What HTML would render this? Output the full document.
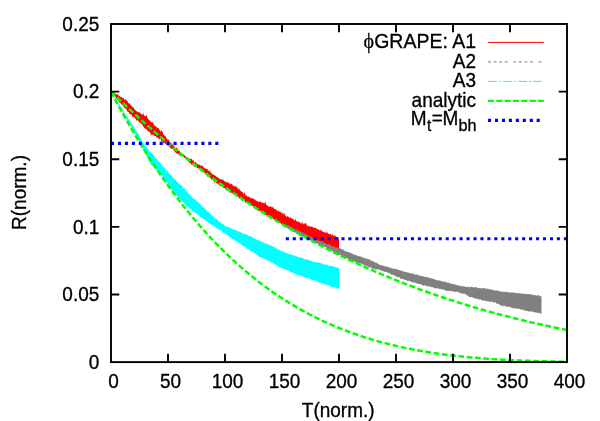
<!DOCTYPE html>
<html><head><meta charset="utf-8"><style>
html,body{margin:0;padding:0;background:#fff;}
svg{display:block;will-change:transform}
text{font-family:"Liberation Sans",sans-serif;font-size:19px;fill:#000;stroke:#000;stroke-width:0.3px}
</style></head><body>
<svg width="600" height="421" viewBox="0 0 600 421">
<rect width="600" height="421" fill="#fff"/>
<polygon points="111.0,92.2 111.5,92.2 112.0,92.5 112.5,92.4 113.0,92.1 113.5,92.2 114.0,93.4 114.5,91.2 115.0,94.0 115.5,93.6 116.0,94.5 116.5,94.1 117.0,94.1 117.5,94.7 118.0,94.6 118.5,95.1 119.0,96.4 119.5,95.8 120.0,96.6 120.5,96.7 121.0,97.2 121.5,96.8 122.0,97.5 122.5,98.3 123.0,97.9 123.5,97.5 124.0,99.1 124.5,99.7 125.0,99.8 125.5,99.3 126.0,99.6 126.5,100.6 127.0,100.6 127.5,101.2 128.0,102.4 128.5,103.4 129.0,102.8 129.5,103.4 130.0,104.1 130.5,105.0 131.0,105.2 131.5,105.7 132.0,106.6 132.5,107.2 133.0,107.5 133.5,107.3 134.0,108.4 134.5,109.5 135.0,110.1 135.5,110.1 136.0,110.9 136.5,111.3 137.0,111.1 137.5,112.2 138.0,111.8 138.5,112.4 139.0,112.1 139.5,112.3 140.0,112.9 140.5,113.1 141.0,113.9 141.5,113.6 142.0,114.5 142.5,114.3 143.0,115.0 143.5,112.1 144.0,116.0 144.5,115.9 145.0,114.9 145.5,116.6 146.0,116.3 146.5,114.3 147.0,117.1 147.5,118.0 148.0,118.2 148.5,119.6 149.0,120.1 149.5,120.3 150.0,120.8 150.5,121.5 151.0,122.1 151.5,121.9 152.0,123.2 152.5,122.4 153.0,120.8 153.5,124.3 154.0,124.6 154.5,126.0 155.0,125.4 155.5,126.0 156.0,126.6 156.5,127.4 157.0,127.2 157.5,127.8 158.0,128.3 158.5,128.3 159.0,129.2 159.5,130.0 160.0,130.1 160.5,131.3 161.0,132.0 161.5,129.0 162.0,132.1 162.5,131.2 163.0,133.2 163.5,134.3 164.0,135.7 164.5,135.6 165.0,135.4 165.5,136.2 166.0,137.3 166.5,137.9 167.0,138.9 167.5,139.5 168.0,140.3 168.5,139.3 169.0,140.3 169.5,141.8 170.0,141.9 170.5,143.1 171.0,143.5 171.5,143.2 172.0,143.2 172.5,144.7 173.0,145.5 173.5,145.3 174.0,145.2 174.5,146.6 175.0,147.7 175.5,148.1 176.0,148.6 176.5,147.4 177.0,147.5 177.5,148.6 178.0,150.3 178.5,150.6 179.0,150.4 179.5,150.5 180.0,152.0 180.5,152.9 181.0,152.1 181.5,153.5 182.0,153.4 182.5,154.5 183.0,154.1 183.5,154.3 184.0,154.8 184.5,155.5 185.0,155.4 185.5,156.6 186.0,156.9 186.5,157.3 187.0,157.3 187.5,158.3 188.0,157.6 188.5,157.9 189.0,157.7 189.5,158.9 190.0,159.4 190.5,159.1 191.0,158.7 191.5,158.7 192.0,159.3 192.5,160.1 193.0,160.9 193.5,160.3 194.0,160.6 194.5,162.4 195.0,162.6 195.5,161.9 196.0,162.3 196.5,163.6 197.0,164.1 197.5,164.1 198.0,164.1 198.5,165.2 199.0,163.9 199.5,164.9 200.0,164.7 200.5,165.9 201.0,164.9 201.5,165.5 202.0,166.5 202.5,165.7 203.0,166.4 203.5,166.5 204.0,168.2 204.5,168.4 205.0,167.6 205.5,168.7 206.0,168.6 206.5,169.5 207.0,168.3 207.5,169.6 208.0,169.4 208.5,171.2 209.0,170.9 209.5,172.0 210.0,169.1 210.5,172.1 211.0,173.2 211.5,173.6 212.0,173.2 212.5,174.4 213.0,174.6 213.5,174.6 214.0,174.9 214.5,175.1 215.0,175.5 215.5,176.2 216.0,176.0 216.5,177.1 217.0,177.2 217.5,176.5 218.0,178.0 218.5,178.1 219.0,178.4 219.5,178.2 220.0,179.3 220.5,179.6 221.0,179.1 221.5,179.9 222.0,179.2 222.5,179.3 223.0,180.0 223.5,180.0 224.0,180.8 224.5,181.7 225.0,181.3 225.5,181.7 226.0,181.5 226.5,182.6 227.0,182.7 227.5,181.9 228.0,183.1 228.5,182.6 229.0,182.4 229.5,183.9 230.0,184.3 230.5,183.6 231.0,184.1 231.5,184.2 232.0,183.5 232.5,185.1 233.0,186.1 233.5,185.9 234.0,185.3 234.5,186.7 235.0,186.4 235.5,185.7 236.0,186.2 236.5,187.5 237.0,186.4 237.5,188.1 238.0,188.7 238.5,188.4 239.0,190.2 239.5,187.6 240.0,191.3 240.5,190.2 241.0,191.0 241.5,191.8 242.0,191.8 242.5,192.3 243.0,192.5 243.5,194.1 244.0,193.8 244.5,191.9 245.0,193.9 245.5,195.5 246.0,195.7 246.5,194.8 247.0,196.1 247.5,196.9 248.0,196.0 248.5,196.8 249.0,196.5 249.5,197.2 250.0,197.4 250.5,197.9 251.0,198.4 251.5,197.6 252.0,198.2 252.5,198.3 253.0,198.4 253.5,198.8 254.0,198.9 254.5,199.3 255.0,200.2 255.5,199.3 256.0,201.2 256.5,200.3 257.0,201.5 257.5,200.6 258.0,201.9 258.5,202.2 259.0,201.4 259.5,201.8 260.0,201.6 260.5,201.6 261.0,201.4 261.5,203.2 262.0,202.4 262.5,202.7 263.0,202.7 263.5,203.1 264.0,203.2 264.5,202.9 265.0,203.8 265.5,201.0 266.0,203.9 266.5,205.3 267.0,204.9 267.5,205.8 268.0,206.0 268.5,206.5 269.0,206.4 269.5,206.7 270.0,206.4 270.5,206.6 271.0,206.4 271.5,207.3 272.0,206.8 272.5,208.0 273.0,206.1 273.5,208.3 274.0,208.4 274.5,209.3 275.0,208.4 275.5,209.0 276.0,210.4 276.5,210.0 277.0,209.5 277.5,211.5 278.0,211.4 278.5,209.3 279.0,212.4 279.5,211.5 280.0,211.1 280.5,212.1 281.0,212.7 281.5,212.3 282.0,213.7 282.5,212.2 283.0,214.8 283.5,214.2 284.0,211.8 284.5,214.0 285.0,214.4 285.5,215.7 286.0,216.5 286.5,216.6 287.0,216.8 287.5,216.0 288.0,216.6 288.5,216.9 289.0,217.3 289.5,218.3 290.0,217.9 290.5,217.1 291.0,217.6 291.5,218.3 292.0,219.2 292.5,218.2 293.0,219.3 293.5,219.2 294.0,220.2 294.5,220.3 295.0,220.5 295.5,218.2 296.0,221.6 296.5,220.7 297.0,221.8 297.5,221.3 298.0,221.5 298.5,221.6 299.0,221.8 299.5,222.8 300.0,222.2 300.5,223.1 301.0,223.7 301.5,222.5 302.0,224.3 302.5,220.7 303.0,224.2 303.5,224.2 304.0,223.3 304.5,224.5 305.0,222.4 305.5,222.9 306.0,223.5 306.5,224.7 307.0,225.3 307.5,226.2 308.0,225.9 308.5,225.8 309.0,226.4 309.5,225.9 310.0,226.9 310.5,226.6 311.0,226.7 311.5,226.6 312.0,226.7 312.5,226.9 313.0,227.6 313.5,227.7 314.0,227.2 314.5,228.3 315.0,227.8 315.5,227.5 316.0,227.8 316.5,228.7 317.0,229.4 317.5,229.0 318.0,229.1 318.5,229.6 319.0,230.1 319.5,230.1 320.0,231.0 320.5,228.7 321.0,231.2 321.5,230.5 322.0,230.2 322.5,231.8 323.0,232.2 323.5,231.2 324.0,232.1 324.5,232.0 325.0,233.0 325.5,233.0 326.0,232.2 326.5,232.6 327.0,232.4 327.5,232.4 328.0,233.7 328.5,233.4 329.0,233.9 329.5,234.0 330.0,234.4 330.5,233.5 331.0,234.4 331.5,235.4 332.0,234.6 332.5,234.3 333.0,234.7 333.5,235.5 334.0,236.6 334.5,235.4 335.0,235.4 335.5,235.9 336.0,236.7 336.5,236.9 337.0,236.5 337.5,237.8 338.0,236.8 338.5,237.5 339.0,238.5 339.0,248.5 339.0,248.5 338.5,250.6 338.0,249.1 337.5,247.7 337.0,247.8 336.5,248.1 336.0,249.5 335.5,248.0 335.0,248.1 334.5,247.9 334.0,247.0 333.5,246.2 333.0,247.3 332.5,247.2 332.0,246.8 331.5,246.6 331.0,246.5 330.5,245.0 330.0,245.6 329.5,246.0 329.0,245.4 328.5,244.6 328.0,244.6 327.5,245.1 327.0,244.8 326.5,244.7 326.0,244.6 325.5,243.8 325.0,244.2 324.5,243.2 324.0,242.6 323.5,242.9 323.0,244.0 322.5,243.4 322.0,242.0 321.5,241.6 321.0,241.5 320.5,244.1 320.0,241.1 319.5,240.9 319.0,241.1 318.5,241.3 318.0,240.8 317.5,240.4 317.0,240.8 316.5,243.8 316.0,240.2 315.5,239.7 315.0,240.6 314.5,239.6 314.0,240.2 313.5,238.9 313.0,238.1 312.5,238.7 312.0,239.3 311.5,240.8 311.0,237.4 310.5,237.7 310.0,237.6 309.5,237.2 309.0,237.7 308.5,236.1 308.0,236.6 307.5,239.0 307.0,236.4 306.5,236.6 306.0,235.2 305.5,235.0 305.0,235.6 304.5,236.1 304.0,235.0 303.5,234.8 303.0,236.2 302.5,235.0 302.0,233.8 301.5,234.0 301.0,233.8 300.5,236.4 300.0,235.7 299.5,233.4 299.0,232.2 298.5,233.4 298.0,232.8 297.5,233.5 297.0,231.4 296.5,231.8 296.0,230.9 295.5,231.4 295.0,230.4 294.5,231.0 294.0,230.5 293.5,230.1 293.0,230.4 292.5,229.3 292.0,229.5 291.5,229.7 291.0,229.0 290.5,228.2 290.0,229.2 289.5,228.9 289.0,227.3 288.5,227.6 288.0,227.1 287.5,226.3 287.0,226.4 286.5,226.3 286.0,226.4 285.5,226.4 285.0,226.6 284.5,227.8 284.0,224.4 283.5,225.7 283.0,224.0 282.5,223.9 282.0,224.8 281.5,224.1 281.0,224.2 280.5,222.7 280.0,222.7 279.5,222.9 279.0,221.9 278.5,221.0 278.0,220.9 277.5,221.0 277.0,220.4 276.5,221.3 276.0,220.1 275.5,221.1 275.0,219.2 274.5,219.8 274.0,219.6 273.5,219.6 273.0,217.8 272.5,218.5 272.0,218.8 271.5,217.3 271.0,217.8 270.5,218.6 270.0,217.3 269.5,217.4 269.0,216.8 268.5,216.6 268.0,216.0 267.5,214.8 267.0,216.8 266.5,215.4 266.0,215.0 265.5,213.9 265.0,215.6 264.5,214.2 264.0,213.2 263.5,213.4 263.0,213.8 262.5,212.0 262.0,212.5 261.5,212.8 261.0,212.1 260.5,210.6 260.0,211.5 259.5,210.8 259.0,210.8 258.5,209.5 258.0,212.9 257.5,209.6 257.0,210.3 256.5,208.3 256.0,208.7 255.5,209.4 255.0,208.2 254.5,208.2 254.0,207.2 253.5,206.9 253.0,205.7 252.5,206.0 252.0,206.1 251.5,205.0 251.0,205.6 250.5,205.7 250.0,205.6 249.5,205.1 249.0,204.1 248.5,203.0 248.0,202.6 247.5,203.1 247.0,203.1 246.5,201.8 246.0,202.2 245.5,203.0 245.0,201.8 244.5,200.2 244.0,200.0 243.5,200.5 243.0,200.4 242.5,201.8 242.0,199.0 241.5,199.5 241.0,198.6 240.5,199.3 240.0,199.1 239.5,198.1 239.0,198.6 238.5,197.1 238.0,196.8 237.5,196.8 237.0,195.6 236.5,195.6 236.0,195.0 235.5,196.2 235.0,194.4 234.5,195.8 234.0,194.5 233.5,194.6 233.0,193.2 232.5,193.1 232.0,193.2 231.5,192.7 231.0,193.0 230.5,191.6 230.0,191.7 229.5,193.6 229.0,191.0 228.5,190.7 228.0,190.5 227.5,190.1 227.0,190.7 226.5,189.7 226.0,190.2 225.5,189.5 225.0,188.0 224.5,188.1 224.0,188.0 223.5,188.5 223.0,186.6 222.5,186.9 222.0,186.9 221.5,186.3 221.0,186.1 220.5,186.1 220.0,184.5 219.5,186.4 219.0,185.2 218.5,184.0 218.0,184.4 217.5,182.8 217.0,183.7 216.5,183.4 216.0,182.8 215.5,181.5 215.0,181.8 214.5,184.3 214.0,180.0 213.5,181.4 213.0,179.8 212.5,179.4 212.0,178.6 211.5,180.4 211.0,177.9 210.5,178.3 210.0,178.3 209.5,177.0 209.0,176.2 208.5,176.0 208.0,175.9 207.5,177.6 207.0,174.7 206.5,175.1 206.0,173.7 205.5,174.2 205.0,173.2 204.5,172.4 204.0,172.4 203.5,172.3 203.0,171.5 202.5,172.1 202.0,171.6 201.5,171.6 201.0,171.1 200.5,169.6 200.0,170.2 199.5,169.4 199.0,168.6 198.5,168.2 198.0,168.6 197.5,167.9 197.0,168.1 196.5,166.8 196.0,166.9 195.5,167.2 195.0,167.6 194.5,166.2 194.0,166.4 193.5,165.4 193.0,164.9 192.5,165.1 192.0,165.1 191.5,164.7 191.0,163.7 190.5,162.9 190.0,163.2 189.5,162.9 189.0,161.4 188.5,163.1 188.0,160.4 187.5,160.3 187.0,160.3 186.5,159.1 186.0,159.0 185.5,158.8 185.0,158.1 184.5,158.1 184.0,157.0 183.5,156.8 183.0,156.5 182.5,156.2 182.0,155.7 181.5,156.1 181.0,156.1 180.5,155.7 180.0,155.2 179.5,155.5 179.0,155.1 178.5,154.3 178.0,153.6 177.5,154.1 177.0,153.7 176.5,153.6 176.0,152.6 175.5,151.8 175.0,153.6 174.5,150.6 174.0,151.1 173.5,149.4 173.0,149.4 172.5,148.6 172.0,148.6 171.5,149.0 171.0,148.7 170.5,147.9 170.0,147.8 169.5,146.1 169.0,147.1 168.5,145.5 168.0,145.6 167.5,145.9 167.0,144.4 166.5,145.2 166.0,143.7 165.5,143.9 165.0,143.6 164.5,143.0 164.0,141.8 163.5,145.0 163.0,142.1 162.5,141.2 162.0,141.2 161.5,143.0 161.0,139.6 160.5,139.6 160.0,138.4 159.5,139.5 159.0,138.4 158.5,139.1 158.0,137.2 157.5,138.4 157.0,136.7 156.5,137.7 156.0,135.9 155.5,136.1 155.0,136.1 154.5,135.9 154.0,135.6 153.5,134.8 153.0,134.2 152.5,134.8 152.0,134.9 151.5,134.1 151.0,136.6 150.5,133.8 150.0,132.6 149.5,131.9 149.0,131.5 148.5,131.4 148.0,131.6 147.5,130.5 147.0,129.2 146.5,129.7 146.0,128.6 145.5,129.3 145.0,128.6 144.5,128.2 144.0,127.5 143.5,127.1 143.0,125.7 142.5,124.9 142.0,124.4 141.5,123.7 141.0,123.4 140.5,122.8 140.0,123.2 139.5,122.4 139.0,121.2 138.5,122.0 138.0,121.1 137.5,119.4 137.0,120.5 136.5,121.2 136.0,119.0 135.5,119.0 135.0,118.2 134.5,117.1 134.0,117.1 133.5,117.4 133.0,116.3 132.5,117.5 132.0,116.0 131.5,114.2 131.0,114.9 130.5,114.3 130.0,113.9 129.5,113.9 129.0,112.6 128.5,112.1 128.0,112.3 127.5,111.7 127.0,110.4 126.5,109.1 126.0,108.8 125.5,108.4 125.0,107.8 124.5,108.4 124.0,106.9 123.5,106.4 123.0,105.8 122.5,105.6 122.0,104.4 121.5,104.7 121.0,103.6 120.5,103.0 120.0,102.9 119.5,102.8 119.0,102.2 118.5,100.4 118.0,100.5 117.5,99.5 117.0,99.7 116.5,98.4 116.0,98.3 115.5,97.1 115.0,96.0 114.5,96.5 114.0,95.8 113.5,94.5 113.0,94.7 112.5,93.6 112.0,92.8 111.5,92.4 111.0,91.9" fill="#ff0000"/>
<polygon points="287.0,224.5 287.5,225.8 288.0,225.3 288.5,225.6 289.0,225.8 289.5,226.2 290.0,226.2 290.5,226.5 291.0,226.6 291.5,227.2 292.0,227.2 292.5,228.0 293.0,227.6 293.5,228.3 294.0,228.4 294.5,229.2 295.0,229.4 295.5,229.2 296.0,229.2 296.5,229.2 297.0,229.4 297.5,229.5 298.0,230.0 298.5,231.0 299.0,230.7 299.5,230.9 300.0,230.9 300.5,231.4 301.0,232.2 301.5,231.8 302.0,232.0 302.5,232.4 303.0,232.3 303.5,232.8 304.0,233.5 304.5,232.8 305.0,234.2 305.5,234.0 306.0,235.0 306.5,234.7 307.0,234.5 307.5,235.1 308.0,235.5 308.5,236.0 309.0,236.5 309.5,236.6 310.0,236.2 310.5,236.8 311.0,237.6 311.5,237.3 312.0,236.4 312.5,237.9 313.0,238.1 313.5,238.9 314.0,239.1 314.5,238.8 315.0,239.4 315.5,239.5 316.0,239.1 316.5,240.2 317.0,240.2 317.5,240.5 318.0,240.2 318.5,240.9 319.0,241.0 319.5,241.0 320.0,241.4 320.5,241.3 321.0,241.4 321.5,242.0 322.0,242.2 322.5,241.7 323.0,242.5 323.5,242.4 324.0,242.3 324.5,243.6 325.0,243.8 325.5,243.9 326.0,244.2 326.5,243.7 327.0,244.5 327.5,244.9 328.0,244.8 328.5,244.5 329.0,245.3 329.5,245.3 330.0,245.8 330.5,245.1 331.0,245.7 331.5,246.2 332.0,246.5 332.5,246.7 333.0,246.7 333.5,246.1 334.0,247.2 334.5,246.4 335.0,246.5 335.5,247.5 336.0,247.9 336.5,247.8 337.0,248.2 337.5,247.6 338.0,247.8 338.5,248.2 339.0,247.4 339.5,247.9 340.0,248.5 340.5,248.6 341.0,248.4 341.5,249.1 342.0,249.1 342.5,249.6 343.0,250.0 343.5,249.6 344.0,250.0 344.5,251.0 345.0,251.1 345.5,251.2 346.0,251.4 346.5,251.6 347.0,251.9 347.5,251.2 348.0,252.0 348.5,252.1 349.0,252.0 349.5,253.1 350.0,252.4 350.5,252.6 351.0,253.2 351.5,253.6 352.0,253.2 352.5,253.9 353.0,254.3 353.5,254.5 354.0,254.2 354.5,254.8 355.0,255.0 355.5,254.6 356.0,254.9 356.5,255.5 357.0,255.7 357.5,255.7 358.0,256.3 358.5,256.3 359.0,256.0 359.5,256.5 360.0,256.6 360.5,256.3 361.0,256.5 361.5,257.6 362.0,256.9 362.5,256.8 363.0,258.0 363.5,258.2 364.0,257.3 364.5,258.0 365.0,258.8 365.5,258.1 366.0,259.0 366.5,258.5 367.0,258.1 367.5,259.8 368.0,259.0 368.5,259.0 369.0,259.8 369.5,259.9 370.0,259.0 370.5,260.1 371.0,261.0 371.5,260.6 372.0,261.6 372.5,260.9 373.0,261.1 373.5,261.5 374.0,261.5 374.5,262.5 375.0,262.0 375.5,262.9 376.0,262.4 376.5,262.4 377.0,263.0 377.5,264.0 378.0,263.2 378.5,263.7 379.0,264.6 379.5,264.8 380.0,265.2 380.5,264.6 381.0,265.0 381.5,265.8 382.0,265.3 382.5,265.6 383.0,265.3 383.5,266.1 384.0,266.3 384.5,266.5 385.0,266.0 385.5,265.9 386.0,266.8 386.5,266.4 387.0,266.7 387.5,266.8 388.0,267.3 388.5,267.2 389.0,267.0 389.5,267.8 390.0,267.3 390.5,268.1 391.0,268.3 391.5,268.3 392.0,268.0 392.5,268.2 393.0,268.9 393.5,268.0 394.0,269.2 394.5,269.0 395.0,268.9 395.5,268.9 396.0,268.8 396.5,268.8 397.0,270.0 397.5,269.3 398.0,269.7 398.5,269.6 399.0,270.1 399.5,270.2 400.0,269.9 400.5,270.9 401.0,270.2 401.5,270.3 402.0,271.1 402.5,271.6 403.0,271.0 403.5,271.5 404.0,272.1 404.5,271.5 405.0,271.4 405.5,272.0 406.0,272.2 406.5,272.5 407.0,272.2 407.5,272.0 408.0,272.8 408.5,272.9 409.0,272.4 409.5,272.5 410.0,273.3 410.5,273.8 411.0,272.9 411.5,273.4 412.0,273.6 412.5,273.5 413.0,274.3 413.5,273.6 414.0,274.1 414.5,274.2 415.0,274.8 415.5,274.9 416.0,274.3 416.5,274.4 417.0,274.6 417.5,274.8 418.0,274.7 418.5,275.8 419.0,275.0 419.5,275.7 420.0,275.3 420.5,276.3 421.0,276.1 421.5,275.7 422.0,276.1 422.5,275.7 423.0,276.7 423.5,276.6 424.0,276.4 424.5,277.3 425.0,276.5 425.5,276.9 426.0,277.2 426.5,276.9 427.0,276.9 427.5,277.1 428.0,277.4 428.5,277.9 429.0,277.9 429.5,277.6 430.0,277.8 430.5,278.4 431.0,278.5 431.5,278.1 432.0,278.6 432.5,278.3 433.0,279.4 433.5,278.7 434.0,279.0 434.5,279.3 435.0,279.2 435.5,279.9 436.0,280.3 436.5,280.0 437.0,280.2 437.5,280.4 438.0,280.5 438.5,280.1 439.0,280.7 439.5,280.8 440.0,280.1 440.5,281.2 441.0,280.6 441.5,281.5 442.0,281.4 442.5,281.0 443.0,281.7 443.5,281.4 444.0,281.7 444.5,281.6 445.0,281.6 445.5,282.5 446.0,282.7 446.5,282.0 447.0,282.1 447.5,282.8 448.0,282.9 448.5,282.4 449.0,282.9 449.5,283.5 450.0,283.0 450.5,283.2 451.0,283.5 451.5,284.1 452.0,284.0 452.5,284.4 453.0,283.6 453.5,284.3 454.0,284.1 454.5,284.3 455.0,285.0 455.5,284.5 456.0,285.0 456.5,285.3 457.0,284.9 457.5,285.1 458.0,285.3 458.5,285.7 459.0,285.6 459.5,286.0 460.0,285.5 460.5,285.7 461.0,286.3 461.5,286.7 462.0,286.1 462.5,285.9 463.0,286.8 463.5,286.0 464.0,286.3 464.5,286.2 465.0,287.1 465.5,286.2 466.0,287.3 466.5,287.3 467.0,287.1 467.5,286.6 468.0,286.7 468.5,287.2 469.0,287.2 469.5,286.8 470.0,287.1 470.5,287.4 471.0,286.6 471.5,286.7 472.0,287.2 472.5,286.7 473.0,287.0 473.5,287.9 474.0,287.0 474.5,287.3 475.0,287.3 475.5,287.5 476.0,286.9 476.5,287.0 477.0,288.0 477.5,288.3 478.0,287.6 478.5,288.3 479.0,287.9 479.5,288.2 480.0,288.3 480.5,288.3 481.0,288.5 481.5,288.0 482.0,288.4 482.5,288.2 483.0,287.9 483.5,288.4 484.0,287.8 484.5,288.2 485.0,287.9 485.5,288.4 486.0,288.9 486.5,289.0 487.0,288.7 487.5,288.2 488.0,289.1 488.5,288.7 489.0,289.4 489.5,289.0 490.0,289.2 490.5,289.3 491.0,290.3 491.5,289.3 492.0,289.7 492.5,290.2 493.0,289.7 493.5,290.2 494.0,289.9 494.5,289.9 495.0,290.2 495.5,290.9 496.0,290.2 496.5,290.4 497.0,290.5 497.5,290.4 498.0,291.0 498.5,290.8 499.0,290.7 499.5,291.5 500.0,291.1 500.5,292.0 501.0,292.0 501.5,291.3 502.0,292.0 502.5,291.6 503.0,291.5 503.5,292.2 504.0,291.5 504.5,292.3 505.0,292.3 505.5,291.5 506.0,292.6 506.5,291.6 507.0,292.1 507.5,291.9 508.0,292.0 508.5,292.7 509.0,292.7 509.5,292.3 510.0,292.5 510.5,292.1 511.0,292.7 511.5,292.8 512.0,292.6 512.5,292.3 513.0,292.7 513.5,292.6 514.0,292.3 514.5,293.2 515.0,292.7 515.5,292.9 516.0,293.1 516.5,292.9 517.0,293.4 517.5,293.0 518.0,292.7 518.5,292.8 519.0,293.6 519.5,293.5 520.0,292.9 520.5,293.2 521.0,293.9 521.5,293.4 522.0,293.4 522.5,293.8 523.0,293.8 523.5,293.3 524.0,293.8 524.5,294.2 525.0,294.0 525.5,294.1 526.0,293.5 526.5,294.7 527.0,293.8 527.5,293.9 528.0,293.7 528.5,293.9 529.0,293.8 529.5,294.3 530.0,294.4 530.5,294.4 531.0,294.3 531.5,294.6 532.0,294.1 532.5,294.9 533.0,295.2 533.5,294.8 534.0,295.2 534.5,295.2 535.0,295.5 535.5,294.8 536.0,295.4 536.5,295.5 537.0,295.9 537.5,295.1 538.0,295.2 538.5,295.3 539.0,295.2 539.5,296.2 540.0,296.3 540.5,296.4 541.0,295.9 541.5,295.4 541.5,313.4 541.5,313.4 541.0,313.7 540.5,313.5 540.0,313.8 539.5,312.9 539.0,312.6 538.5,312.9 538.0,312.8 537.5,313.2 537.0,312.4 536.5,312.3 536.0,312.9 535.5,312.2 535.0,312.1 534.5,312.2 534.0,312.6 533.5,312.5 533.0,311.6 532.5,311.8 532.0,312.0 531.5,311.0 531.0,311.2 530.5,311.3 530.0,311.8 529.5,312.1 529.0,311.2 528.5,311.5 528.0,310.9 527.5,310.9 527.0,311.2 526.5,311.1 526.0,310.7 525.5,310.6 525.0,309.9 524.5,311.4 524.0,310.2 523.5,310.0 523.0,309.6 522.5,309.5 522.0,309.9 521.5,309.2 521.0,310.0 520.5,309.8 520.0,308.7 519.5,308.8 519.0,309.1 518.5,309.0 518.0,308.3 517.5,308.7 517.0,309.1 516.5,308.4 516.0,308.0 515.5,308.6 515.0,308.6 514.5,308.6 514.0,307.8 513.5,308.0 513.0,308.5 512.5,307.7 512.0,308.4 511.5,307.6 511.0,307.6 510.5,307.6 510.0,307.0 509.5,306.8 509.0,306.9 508.5,306.6 508.0,307.1 507.5,307.1 507.0,306.4 506.5,306.6 506.0,306.9 505.5,305.9 505.0,305.8 504.5,306.3 504.0,305.6 503.5,305.9 503.0,306.2 502.5,306.1 502.0,305.8 501.5,305.2 501.0,305.4 500.5,305.4 500.0,305.1 499.5,304.7 499.0,304.2 498.5,303.8 498.0,303.9 497.5,303.6 497.0,304.3 496.5,303.5 496.0,302.6 495.5,301.8 495.0,302.4 494.5,302.7 494.0,302.7 493.5,302.3 493.0,301.9 492.5,301.8 492.0,301.4 491.5,302.0 491.0,302.2 490.5,302.1 490.0,301.6 489.5,301.2 489.0,302.0 488.5,301.4 488.0,300.8 487.5,301.3 487.0,301.2 486.5,301.3 486.0,301.4 485.5,300.8 485.0,301.1 484.5,300.3 484.0,301.0 483.5,300.6 483.0,300.4 482.5,299.9 482.0,301.2 481.5,299.9 481.0,299.4 480.5,299.5 480.0,299.2 479.5,299.2 479.0,299.4 478.5,300.6 478.0,298.9 477.5,298.3 477.0,298.5 476.5,299.0 476.0,299.0 475.5,298.9 475.0,298.3 474.5,297.9 474.0,297.8 473.5,297.6 473.0,298.1 472.5,297.3 472.0,297.6 471.5,297.1 471.0,297.0 470.5,296.9 470.0,297.6 469.5,297.1 469.0,296.7 468.5,296.5 468.0,295.4 467.5,295.8 467.0,295.2 466.5,295.4 466.0,294.6 465.5,294.2 465.0,293.8 464.5,293.7 464.0,293.4 463.5,293.9 463.0,293.2 462.5,293.8 462.0,293.4 461.5,293.2 461.0,293.9 460.5,293.1 460.0,292.9 459.5,292.3 459.0,292.8 458.5,292.6 458.0,291.4 457.5,292.2 457.0,291.7 456.5,291.5 456.0,291.5 455.5,292.0 455.0,292.1 454.5,291.8 454.0,291.5 453.5,291.5 453.0,291.4 452.5,291.5 452.0,291.1 451.5,291.4 451.0,291.0 450.5,290.8 450.0,290.8 449.5,291.0 449.0,291.3 448.5,290.8 448.0,290.7 447.5,291.1 447.0,290.8 446.5,290.7 446.0,290.8 445.5,290.7 445.0,290.0 444.5,290.1 444.0,289.9 443.5,289.3 443.0,289.8 442.5,289.0 442.0,289.8 441.5,289.5 441.0,288.7 440.5,288.8 440.0,289.3 439.5,289.1 439.0,288.4 438.5,288.2 438.0,289.2 437.5,288.8 437.0,288.1 436.5,288.1 436.0,287.7 435.5,288.7 435.0,288.1 434.5,288.5 434.0,288.2 433.5,287.5 433.0,287.3 432.5,287.2 432.0,287.1 431.5,287.5 431.0,286.7 430.5,286.7 430.0,286.7 429.5,286.4 429.0,286.3 428.5,286.1 428.0,286.4 427.5,286.1 427.0,286.4 426.5,286.4 426.0,285.3 425.5,286.2 425.0,285.3 424.5,285.1 424.0,285.7 423.5,285.7 423.0,285.0 422.5,285.1 422.0,285.7 421.5,284.3 421.0,284.3 420.5,283.9 420.0,284.4 419.5,284.1 419.0,284.2 418.5,283.4 418.0,283.9 417.5,283.7 417.0,283.5 416.5,283.0 416.0,283.2 415.5,282.6 415.0,283.1 414.5,282.6 414.0,282.8 413.5,281.8 413.0,282.6 412.5,282.3 412.0,282.3 411.5,282.0 411.0,282.0 410.5,281.0 410.0,281.4 409.5,281.0 409.0,280.5 408.5,280.7 408.0,281.3 407.5,280.9 407.0,280.8 406.5,279.7 406.0,279.9 405.5,280.3 405.0,279.7 404.5,279.4 404.0,279.7 403.5,278.9 403.0,279.3 402.5,278.6 402.0,278.9 401.5,279.3 401.0,278.2 400.5,278.7 400.0,278.4 399.5,277.0 399.0,277.0 398.5,277.4 398.0,277.3 397.5,277.3 397.0,277.0 396.5,276.5 396.0,276.6 395.5,276.2 395.0,275.4 394.5,275.3 394.0,275.4 393.5,274.9 393.0,274.6 392.5,275.3 392.0,274.5 391.5,275.5 391.0,273.6 390.5,274.0 390.0,273.4 389.5,273.3 389.0,273.6 388.5,272.8 388.0,272.9 387.5,272.5 387.0,272.0 386.5,272.0 386.0,272.3 385.5,271.4 385.0,271.7 384.5,271.9 384.0,271.6 383.5,271.6 383.0,270.8 382.5,270.9 382.0,271.2 381.5,270.8 381.0,270.6 380.5,270.2 380.0,269.3 379.5,269.9 379.0,269.5 378.5,269.6 378.0,269.7 377.5,269.2 377.0,269.0 376.5,269.2 376.0,269.5 375.5,269.2 375.0,269.3 374.5,269.0 374.0,268.6 373.5,269.3 373.0,268.9 372.5,268.5 372.0,268.3 371.5,267.4 371.0,268.1 370.5,267.1 370.0,267.7 369.5,266.8 369.0,267.4 368.5,266.8 368.0,266.3 367.5,266.6 367.0,265.6 366.5,266.8 366.0,265.6 365.5,265.6 365.0,265.0 364.5,265.5 364.0,265.3 363.5,264.3 363.0,264.5 362.5,264.7 362.0,264.0 361.5,263.7 361.0,263.7 360.5,263.2 360.0,263.0 359.5,263.1 359.0,263.3 358.5,262.9 358.0,262.9 357.5,262.9 357.0,262.0 356.5,261.9 356.0,262.1 355.5,262.3 355.0,261.7 354.5,261.4 354.0,261.9 353.5,261.0 353.0,260.4 352.5,261.0 352.0,261.1 351.5,260.6 351.0,260.0 350.5,260.6 350.0,259.5 349.5,259.4 349.0,259.0 348.5,259.4 348.0,258.4 347.5,258.5 347.0,258.7 346.5,258.3 346.0,257.7 345.5,258.0 345.0,257.0 344.5,257.5 344.0,257.5 343.5,256.4 343.0,256.5 342.5,256.6 342.0,256.2 341.5,255.4 341.0,255.4 340.5,255.3 340.0,255.0 339.5,254.6 339.0,255.3 338.5,255.1 338.0,254.6 337.5,253.6 337.0,254.2 336.5,253.0 336.0,253.0 335.5,252.4 335.0,252.3 334.5,252.2 334.0,252.4 333.5,251.7 333.0,251.9 332.5,251.6 332.0,251.1 331.5,250.2 331.0,250.1 330.5,250.3 330.0,250.2 329.5,249.9 329.0,248.9 328.5,249.6 328.0,248.8 327.5,249.1 327.0,247.8 326.5,248.2 326.0,247.2 325.5,247.5 325.0,247.1 324.5,246.6 324.0,247.1 323.5,246.5 323.0,246.6 322.5,246.0 322.0,245.7 321.5,245.5 321.0,245.1 320.5,245.1 320.0,244.3 319.5,244.8 319.0,244.5 318.5,243.7 318.0,244.0 317.5,243.7 317.0,243.5 316.5,243.1 316.0,243.3 315.5,242.7 315.0,242.3 314.5,242.9 314.0,242.2 313.5,241.9 313.0,242.4 312.5,242.2 312.0,241.4 311.5,240.8 311.0,240.6 310.5,240.0 310.0,240.6 309.5,240.3 309.0,239.6 308.5,239.8 308.0,238.9 307.5,239.6 307.0,239.3 306.5,239.1 306.0,238.6 305.5,237.8 305.0,238.0 304.5,238.1 304.0,237.6 303.5,237.1 303.0,236.4 302.5,236.1 302.0,236.8 301.5,236.4 301.0,236.3 300.5,235.7 300.0,235.9 299.5,235.2 299.0,234.2 298.5,234.5 298.0,234.1 297.5,233.7 297.0,234.2 296.5,232.8 296.0,233.2 295.5,232.4 295.0,232.1 294.5,232.5 294.0,232.4 293.5,231.1 293.0,231.6 292.5,231.3 292.0,231.0 291.5,230.2 291.0,229.9 290.5,229.9 290.0,229.8 289.5,229.0 289.0,228.8 288.5,228.9 288.0,228.4 287.5,228.5 287.0,227.8" fill="#808080"/>
<polygon points="111.0,92.3 111.5,93.0 112.0,93.6 112.5,94.6 113.0,95.1 113.5,95.8 114.0,96.6 114.5,97.4 115.0,97.6 115.5,99.1 116.0,99.5 116.5,100.3 117.0,101.5 117.5,102.0 118.0,103.0 118.5,103.7 119.0,103.8 119.5,104.6 120.0,106.0 120.5,106.5 121.0,107.5 121.5,108.1 122.0,108.2 122.5,109.3 123.0,109.9 123.5,110.8 124.0,111.9 124.5,112.9 125.0,113.1 125.5,114.4 126.0,115.3 126.5,115.4 127.0,116.8 127.5,117.1 128.0,118.5 128.5,119.0 129.0,119.5 129.5,120.2 130.0,120.6 130.5,121.7 131.0,122.7 131.5,123.1 132.0,124.6 132.5,124.7 133.0,125.6 133.5,125.5 134.0,127.3 134.5,128.6 135.0,128.3 135.5,129.3 136.0,130.6 136.5,131.3 137.0,131.6 137.5,133.5 138.0,133.3 138.5,134.1 139.0,135.1 139.5,136.8 140.0,137.5 140.5,138.5 141.0,138.9 141.5,140.0 142.0,141.5 142.5,142.1 143.0,143.1 143.5,143.2 144.0,143.6 144.5,144.2 145.0,145.5 145.5,145.5 146.0,146.3 146.5,147.5 147.0,147.6 147.5,148.5 148.0,148.6 148.5,149.4 149.0,150.7 149.5,150.9 150.0,151.7 150.5,151.9 151.0,152.8 151.5,152.7 152.0,153.8 152.5,154.6 153.0,153.8 153.5,155.3 154.0,156.3 154.5,156.6 155.0,157.4 155.5,158.4 156.0,158.8 156.5,158.7 157.0,159.1 157.5,160.3 158.0,160.5 158.5,161.4 159.0,162.1 159.5,162.3 160.0,162.5 160.5,164.0 161.0,162.1 161.5,165.0 162.0,165.6 162.5,166.1 163.0,166.1 163.5,167.4 164.0,167.2 164.5,167.9 165.0,168.1 165.5,169.3 166.0,169.8 166.5,170.7 167.0,170.3 167.5,171.5 168.0,171.4 168.5,172.7 169.0,172.9 169.5,173.9 170.0,173.7 170.5,175.1 171.0,174.7 171.5,175.5 172.0,176.3 172.5,177.0 173.0,177.2 173.5,178.4 174.0,178.3 174.5,179.4 175.0,179.6 175.5,179.5 176.0,180.6 176.5,181.2 177.0,181.7 177.5,181.6 178.0,182.8 178.5,183.2 179.0,183.5 179.5,184.6 180.0,184.6 180.5,185.3 181.0,185.1 181.5,185.6 182.0,186.3 182.5,186.8 183.0,187.9 183.5,188.2 184.0,188.1 184.5,188.6 185.0,188.9 185.5,190.0 186.0,190.4 186.5,190.7 187.0,191.6 187.5,192.3 188.0,192.9 188.5,193.4 189.0,194.2 189.5,194.2 190.0,195.3 190.5,195.3 191.0,195.8 191.5,197.0 192.0,197.5 192.5,197.8 193.0,198.2 193.5,198.4 194.0,199.1 194.5,198.9 195.0,199.8 195.5,199.8 196.0,200.2 196.5,201.0 197.0,201.8 197.5,201.8 198.0,202.2 198.5,202.2 199.0,203.2 199.5,203.7 200.0,203.4 200.5,204.1 201.0,204.9 201.5,205.8 202.0,206.0 202.5,206.9 203.0,206.7 203.5,207.9 204.0,207.5 204.5,208.6 205.0,208.6 205.5,209.8 206.0,210.0 206.5,210.5 207.0,211.3 207.5,211.3 208.0,212.3 208.5,211.8 209.0,212.2 209.5,212.5 210.0,213.9 210.5,213.2 211.0,215.1 211.5,214.7 212.0,216.0 212.5,216.2 213.0,215.8 213.5,216.6 214.0,216.7 214.5,217.9 215.0,218.5 215.5,218.6 216.0,218.8 216.5,219.1 217.0,219.4 217.5,219.6 218.0,220.8 218.5,221.2 219.0,221.7 219.5,221.3 220.0,222.6 220.5,222.1 221.0,222.6 221.5,223.8 222.0,223.8 222.5,224.3 223.0,224.0 223.5,224.1 224.0,225.2 224.5,225.9 225.0,225.3 225.5,226.1 226.0,227.0 226.5,226.0 227.0,227.0 227.5,226.4 228.0,226.9 228.5,227.6 229.0,227.4 229.5,226.6 230.0,228.3 230.5,228.3 231.0,228.1 231.5,229.0 232.0,228.3 232.5,229.0 233.0,229.8 233.5,229.8 234.0,230.2 234.5,228.9 235.0,229.6 235.5,230.2 236.0,230.2 236.5,230.8 237.0,230.7 237.5,230.9 238.0,231.7 238.5,231.6 239.0,231.2 239.5,231.6 240.0,231.7 240.5,232.5 241.0,232.3 241.5,232.2 242.0,233.4 242.5,233.5 243.0,233.2 243.5,233.9 244.0,233.3 244.5,233.5 245.0,234.4 245.5,234.1 246.0,234.6 246.5,234.3 247.0,235.0 247.5,235.0 248.0,234.9 248.5,236.0 249.0,235.9 249.5,236.2 250.0,236.4 250.5,236.1 251.0,235.4 251.5,237.0 252.0,236.5 252.5,237.6 253.0,238.0 253.5,237.8 254.0,238.6 254.5,238.4 255.0,238.6 255.5,238.9 256.0,239.7 256.5,239.3 257.0,240.2 257.5,239.5 258.0,239.9 258.5,241.0 259.0,241.0 259.5,239.8 260.0,239.8 260.5,241.3 261.0,242.1 261.5,241.5 262.0,241.8 262.5,242.0 263.0,242.9 263.5,242.1 264.0,242.5 264.5,243.4 265.0,243.4 265.5,243.8 266.0,243.8 266.5,243.0 267.0,243.5 267.5,244.4 268.0,244.5 268.5,245.0 269.0,244.6 269.5,245.2 270.0,245.3 270.5,245.5 271.0,245.4 271.5,245.6 272.0,246.1 272.5,246.4 273.0,246.4 273.5,246.7 274.0,246.9 274.5,247.8 275.0,247.5 275.5,248.0 276.0,248.4 276.5,248.3 277.0,248.6 277.5,249.2 278.0,249.8 278.5,249.4 279.0,249.7 279.5,249.6 280.0,251.0 280.5,250.9 281.0,249.7 281.5,251.5 282.0,251.5 282.5,251.0 283.0,251.6 283.5,252.1 284.0,251.6 284.5,252.2 285.0,252.5 285.5,252.0 286.0,253.4 286.5,252.8 287.0,253.2 287.5,253.6 288.0,254.0 288.5,253.7 289.0,254.4 289.5,254.2 290.0,253.6 290.5,254.2 291.0,255.1 291.5,254.6 292.0,254.7 292.5,254.9 293.0,255.3 293.5,255.0 294.0,255.5 294.5,254.8 295.0,256.4 295.5,256.5 296.0,255.9 296.5,256.2 297.0,256.5 297.5,256.9 298.0,256.9 298.5,256.9 299.0,256.9 299.5,258.0 300.0,257.3 300.5,257.5 301.0,257.3 301.5,258.1 302.0,257.8 302.5,257.8 303.0,257.7 303.5,258.9 304.0,258.4 304.5,259.2 305.0,259.3 305.5,259.4 306.0,259.2 306.5,260.0 307.0,259.6 307.5,259.4 308.0,259.5 308.5,260.0 309.0,260.2 309.5,260.2 310.0,260.4 310.5,260.9 311.0,261.2 311.5,260.8 312.0,261.3 312.5,261.7 313.0,262.1 313.5,261.2 314.0,261.7 314.5,261.7 315.0,262.0 315.5,262.3 316.0,262.7 316.5,262.0 317.0,262.7 317.5,262.6 318.0,262.1 318.5,262.4 319.0,262.7 319.5,262.7 320.0,263.0 320.5,262.9 321.0,263.0 321.5,263.1 322.0,264.3 322.5,264.2 323.0,263.5 323.5,264.5 324.0,264.7 324.5,264.1 325.0,264.8 325.5,264.5 326.0,265.2 326.5,264.6 327.0,263.8 327.5,265.1 328.0,265.6 328.5,265.7 329.0,266.0 329.5,265.2 330.0,266.2 330.5,265.9 331.0,265.6 331.5,266.4 332.0,266.0 332.5,265.9 333.0,265.9 333.5,267.2 334.0,265.5 334.5,266.9 335.0,267.0 335.5,267.4 336.0,267.3 336.5,266.9 337.0,267.9 337.5,267.7 338.0,268.3 338.5,267.7 339.0,267.7 339.0,288.7 339.0,288.7 338.5,288.7 338.0,288.2 337.5,289.0 337.0,288.6 336.5,288.4 336.0,287.8 335.5,287.4 335.0,287.1 334.5,287.2 334.0,287.3 333.5,287.2 333.0,286.7 332.5,287.1 332.0,287.8 331.5,287.1 331.0,286.7 330.5,286.1 330.0,286.0 329.5,286.4 329.0,285.6 328.5,285.1 328.0,285.2 327.5,284.8 327.0,285.1 326.5,284.7 326.0,284.2 325.5,285.0 325.0,284.2 324.5,284.0 324.0,283.8 323.5,284.3 323.0,284.2 322.5,283.6 322.0,283.0 321.5,282.7 321.0,282.7 320.5,283.1 320.0,282.8 319.5,282.2 319.0,283.3 318.5,282.2 318.0,281.5 317.5,281.7 317.0,281.3 316.5,281.8 316.0,280.6 315.5,281.0 315.0,280.3 314.5,281.1 314.0,279.9 313.5,279.7 313.0,280.2 312.5,280.4 312.0,279.9 311.5,280.3 311.0,279.6 310.5,279.0 310.0,279.0 309.5,278.6 309.0,278.3 308.5,278.3 308.0,278.6 307.5,277.8 307.0,278.3 306.5,277.6 306.0,278.6 305.5,278.0 305.0,277.1 304.5,277.2 304.0,277.1 303.5,277.8 303.0,276.1 302.5,276.1 302.0,276.4 301.5,276.5 301.0,276.1 300.5,275.4 300.0,276.0 299.5,275.0 299.0,275.7 298.5,275.1 298.0,274.5 297.5,275.0 297.0,276.2 296.5,274.8 296.0,273.5 295.5,273.9 295.0,273.2 294.5,273.9 294.0,273.4 293.5,272.6 293.0,272.8 292.5,273.0 292.0,272.7 291.5,271.7 291.0,272.1 290.5,272.0 290.0,271.4 289.5,271.2 289.0,271.1 288.5,270.5 288.0,270.0 287.5,270.2 287.0,269.8 286.5,269.7 286.0,269.9 285.5,269.9 285.0,269.1 284.5,269.0 284.0,268.8 283.5,269.0 283.0,268.6 282.5,268.3 282.0,267.9 281.5,267.9 281.0,268.0 280.5,267.8 280.0,267.0 279.5,266.8 279.0,266.4 278.5,267.2 278.0,266.1 277.5,265.6 277.0,265.0 276.5,265.2 276.0,265.4 275.5,264.3 275.0,264.3 274.5,263.9 274.0,263.1 273.5,263.3 273.0,263.3 272.5,262.2 272.0,262.8 271.5,262.7 271.0,262.4 270.5,262.0 270.0,260.8 269.5,260.5 269.0,262.5 268.5,260.1 268.0,260.7 267.5,260.5 267.0,260.5 266.5,259.1 266.0,259.8 265.5,259.6 265.0,259.3 264.5,258.4 264.0,258.4 263.5,258.4 263.0,258.3 262.5,258.1 262.0,258.2 261.5,257.8 261.0,257.6 260.5,257.1 260.0,257.3 259.5,257.1 259.0,256.4 258.5,256.2 258.0,255.5 257.5,255.0 257.0,254.9 256.5,254.8 256.0,254.7 255.5,253.8 255.0,253.3 254.5,252.7 254.0,252.7 253.5,252.4 253.0,252.1 252.5,251.7 252.0,251.7 251.5,251.5 251.0,251.0 250.5,250.9 250.0,250.8 249.5,249.5 249.0,249.6 248.5,249.7 248.0,249.2 247.5,248.4 247.0,249.8 246.5,248.3 246.0,247.3 245.5,247.5 245.0,247.5 244.5,246.4 244.0,246.1 243.5,245.9 243.0,246.3 242.5,245.1 242.0,245.1 241.5,245.3 241.0,243.9 240.5,243.8 240.0,243.2 239.5,243.1 239.0,242.6 238.5,243.1 238.0,242.8 237.5,242.2 237.0,241.3 236.5,241.3 236.0,241.1 235.5,241.5 235.0,240.2 234.5,240.5 234.0,239.6 233.5,239.3 233.0,240.0 232.5,238.7 232.0,239.1 231.5,237.6 231.0,237.7 230.5,237.9 230.0,238.5 229.5,236.3 229.0,236.4 228.5,236.2 228.0,235.0 227.5,235.6 227.0,235.0 226.5,234.1 226.0,233.5 225.5,233.8 225.0,233.1 224.5,232.9 224.0,233.2 223.5,232.5 223.0,233.9 222.5,232.1 222.0,231.7 221.5,230.4 221.0,230.4 220.5,230.2 220.0,230.4 219.5,229.6 219.0,229.9 218.5,229.3 218.0,228.9 217.5,228.9 217.0,228.4 216.5,228.0 216.0,227.2 215.5,226.8 215.0,227.0 214.5,226.6 214.0,226.9 213.5,225.6 213.0,225.4 212.5,225.6 212.0,225.6 211.5,225.0 211.0,224.3 210.5,223.7 210.0,224.3 209.5,223.7 209.0,222.6 208.5,223.3 208.0,222.4 207.5,221.8 207.0,221.8 206.5,220.8 206.0,220.4 205.5,220.2 205.0,220.1 204.5,219.7 204.0,219.5 203.5,219.1 203.0,218.3 202.5,218.4 202.0,218.2 201.5,218.1 201.0,217.4 200.5,217.2 200.0,216.2 199.5,215.8 199.0,216.0 198.5,215.2 198.0,214.5 197.5,214.4 197.0,214.4 196.5,213.3 196.0,213.3 195.5,213.3 195.0,212.1 194.5,212.0 194.0,212.3 193.5,211.4 193.0,211.7 192.5,211.3 192.0,210.0 191.5,209.6 191.0,209.6 190.5,208.7 190.0,208.5 189.5,208.6 189.0,208.4 188.5,207.2 188.0,207.2 187.5,206.4 187.0,205.9 186.5,207.7 186.0,204.9 185.5,205.0 185.0,203.9 184.5,203.8 184.0,203.1 183.5,201.9 183.0,202.2 182.5,201.7 182.0,201.5 181.5,200.6 181.0,199.5 180.5,198.9 180.0,198.8 179.5,198.5 179.0,198.1 178.5,197.3 178.0,196.4 177.5,196.4 177.0,195.8 176.5,195.8 176.0,194.1 175.5,193.7 175.0,193.3 174.5,192.6 174.0,192.6 173.5,191.0 173.0,191.1 172.5,190.3 172.0,189.9 171.5,188.2 171.0,188.1 170.5,187.3 170.0,187.9 169.5,186.1 169.0,184.8 168.5,184.4 168.0,183.7 167.5,183.3 167.0,182.0 166.5,182.1 166.0,180.5 165.5,180.0 165.0,180.4 164.5,179.1 164.0,178.5 163.5,178.0 163.0,176.9 162.5,176.5 162.0,175.3 161.5,175.2 161.0,174.1 160.5,174.2 160.0,173.4 159.5,172.8 159.0,172.3 158.5,172.2 158.0,171.1 157.5,170.8 157.0,170.1 156.5,169.2 156.0,169.8 155.5,169.0 155.0,168.5 154.5,168.1 154.0,167.4 153.5,166.5 153.0,165.9 152.5,165.1 152.0,164.9 151.5,164.9 151.0,165.3 150.5,163.3 150.0,163.5 149.5,162.3 149.0,160.8 148.5,160.3 148.0,159.5 147.5,157.8 147.0,156.8 146.5,156.0 146.0,154.6 145.5,153.6 145.0,152.5 144.5,151.9 144.0,150.9 143.5,150.9 143.0,148.5 142.5,147.6 142.0,146.6 141.5,145.5 141.0,146.2 140.5,143.7 140.0,143.0 139.5,142.7 139.0,141.6 138.5,140.2 138.0,138.8 137.5,138.2 137.0,137.8 136.5,136.8 136.0,135.6 135.5,134.3 135.0,133.3 134.5,133.3 134.0,131.7 133.5,131.4 133.0,129.7 132.5,128.4 132.0,128.0 131.5,127.4 131.0,125.7 130.5,125.6 130.0,124.4 129.5,123.7 129.0,122.6 128.5,122.2 128.0,121.4 127.5,120.5 127.0,119.8 126.5,118.3 126.0,117.5 125.5,117.3 125.0,116.0 124.5,115.2 124.0,114.9 123.5,114.2 123.0,113.0 122.5,112.0 122.0,111.7 121.5,111.0 121.0,110.1 120.5,108.9 120.0,108.0 119.5,107.2 119.0,106.2 118.5,105.5 118.0,104.4 117.5,103.7 117.0,103.0 116.5,102.1 116.0,101.1 115.5,100.0 115.0,99.1 114.5,98.1 114.0,97.3 113.5,96.5 113.0,95.7 112.5,94.7 112.0,93.6 111.5,92.7 111.0,91.8" fill="#00ffff"/>
<path d="M111.00,91.62 L113.28,93.85 L115.56,96.06 L117.84,98.26 L120.12,100.45 L122.40,102.62 L124.68,104.78 L126.96,106.93 L129.24,109.06 L131.52,111.18 L133.80,113.29 L136.08,115.38 L138.36,117.46 L140.64,119.53 L142.92,121.58 L145.20,123.62 L147.48,125.65 L149.76,127.67 L152.04,129.67 L154.32,131.66 L156.60,133.63 L158.88,135.60 L161.16,137.55 L163.44,139.48 L165.72,141.41 L168.00,143.32 L170.28,145.22 L172.56,147.11 L174.84,148.99 L177.12,150.85 L179.40,152.70 L181.68,154.54 L183.96,156.37 L186.24,158.18 L188.52,159.98 L190.80,161.77 L193.08,163.55 L195.36,165.32 L197.64,167.07 L199.92,168.82 L202.20,170.55 L204.48,172.27 L206.76,173.98 L209.04,175.67 L211.32,177.36 L213.60,179.03 L215.88,180.69 L218.16,182.35 L220.44,183.99 L222.72,185.61 L225.00,187.23 L227.28,188.84 L229.56,190.43 L231.84,192.02 L234.12,193.59 L236.40,195.15 L238.68,196.70 L240.96,198.24 L243.24,199.77 L245.52,201.29 L247.80,202.80 L250.08,204.30 L252.36,205.78 L254.64,207.26 L256.92,208.73 L259.20,210.18 L261.48,211.63 L263.76,213.06 L266.04,214.49 L268.32,215.90 L270.60,217.30 L272.88,218.70 L275.16,220.08 L277.44,221.46 L279.72,222.82 L282.00,224.17 L284.28,225.52 L286.56,226.85 L288.84,228.18 L291.12,229.49 L293.40,230.80 L295.68,232.09 L297.96,233.38 L300.24,234.65 L302.52,235.92 L304.80,237.18 L307.08,238.42 L309.36,239.66 L311.64,240.89 L313.92,242.11 L316.20,243.32 L318.48,244.52 L320.76,245.71 L323.04,246.90 L325.32,248.07 L327.60,249.24 L329.88,250.39 L332.16,251.54 L334.44,252.68 L336.72,253.81 L339.00,254.93 L341.28,256.04 L343.56,257.14 L345.84,258.24 L348.12,259.32 L350.40,260.40 L352.68,261.47 L354.96,262.53 L357.24,263.58 L359.52,264.63 L361.80,265.66 L364.08,266.69 L366.36,267.71 L368.64,268.72 L370.92,269.72 L373.20,270.72 L375.48,271.70 L377.76,272.68 L380.04,273.65 L382.32,274.62 L384.60,275.57 L386.88,276.52 L389.16,277.46 L391.44,278.39 L393.72,279.31 L396.00,280.23 L398.28,281.14 L400.56,282.04 L402.84,282.93 L405.12,283.82 L407.40,284.70 L409.68,285.57 L411.96,286.43 L414.24,287.29 L416.52,288.14 L418.80,288.98 L421.08,289.81 L423.36,290.64 L425.64,291.46 L427.92,292.27 L430.20,293.08 L432.48,293.88 L434.76,294.67 L437.04,295.45 L439.32,296.23 L441.60,297.00 L443.88,297.77 L446.16,298.53 L448.44,299.28 L450.72,300.02 L453.00,300.76 L455.28,301.49 L457.56,302.22 L459.84,302.93 L462.12,303.65 L464.40,304.35 L466.68,305.05 L468.96,305.74 L471.24,306.43 L473.52,307.11 L475.80,307.78 L478.08,308.45 L480.36,309.11 L482.64,309.77 L484.92,310.42 L487.20,311.06 L489.48,311.70 L491.76,312.33 L494.04,312.95 L496.32,313.57 L498.60,314.18 L500.88,314.79 L503.16,315.39 L505.44,315.99 L507.72,316.58 L510.00,317.16 L512.28,317.74 L514.56,318.32 L516.84,318.88 L519.12,319.45 L521.40,320.00 L523.68,320.55 L525.96,321.10 L528.24,321.64 L530.52,322.18 L532.80,322.71 L535.08,323.23 L537.36,323.75 L539.64,324.26 L541.92,324.77 L544.20,325.27 L546.48,325.77 L548.76,326.27 L551.04,326.76 L553.32,327.24 L555.60,327.72 L557.88,328.19 L560.16,328.66 L562.44,329.12 L564.72,329.58 L567.00,330.04" fill="none" stroke="#00ff00" stroke-width="2.5" stroke-dasharray="5.7 2.64"/>
<path d="M111.00,91.62 L113.28,95.96 L115.56,100.26 L117.84,104.50 L120.12,108.69 L122.40,112.82 L124.68,116.91 L126.96,120.95 L129.24,124.93 L131.52,128.87 L133.80,132.76 L136.08,136.59 L138.36,140.38 L140.64,144.13 L142.92,147.82 L145.20,151.47 L147.48,155.07 L149.76,158.62 L152.04,162.13 L154.32,165.59 L156.60,169.01 L158.88,172.38 L161.16,175.71 L163.44,179.00 L165.72,182.24 L168.00,185.43 L170.28,188.59 L172.56,191.70 L174.84,194.77 L177.12,197.80 L179.40,200.79 L181.68,203.73 L183.96,206.64 L186.24,209.50 L188.52,212.33 L190.80,215.12 L193.08,217.86 L195.36,220.57 L197.64,223.24 L199.92,225.87 L202.20,228.47 L204.48,231.03 L206.76,233.55 L209.04,236.03 L211.32,238.48 L213.60,240.89 L215.88,243.27 L218.16,245.61 L220.44,247.92 L222.72,250.19 L225.00,252.43 L227.28,254.63 L229.56,256.80 L231.84,258.94 L234.12,261.04 L236.40,263.12 L238.68,265.16 L240.96,267.17 L243.24,269.15 L245.52,271.09 L247.80,273.01 L250.08,274.89 L252.36,276.75 L254.64,278.57 L256.92,280.37 L259.20,282.14 L261.48,283.88 L263.76,285.59 L266.04,287.27 L268.32,288.92 L270.60,290.55 L272.88,292.15 L275.16,293.72 L277.44,295.26 L279.72,296.78 L282.00,298.28 L284.28,299.74 L286.56,301.18 L288.84,302.60 L291.12,303.99 L293.40,305.36 L295.68,306.70 L297.96,308.02 L300.24,309.32 L302.52,310.59 L304.80,311.84 L307.08,313.06 L309.36,314.27 L311.64,315.45 L313.92,316.61 L316.20,317.74 L318.48,318.86 L320.76,319.95 L323.04,321.03 L325.32,322.08 L327.60,323.11 L329.88,324.13 L332.16,325.12 L334.44,326.09 L336.72,327.05 L339.00,327.98 L341.28,328.90 L343.56,329.79 L345.84,330.67 L348.12,331.53 L350.40,332.38 L352.68,333.20 L354.96,334.01 L357.24,334.80 L359.52,335.58 L361.80,336.33 L364.08,337.08 L366.36,337.80 L368.64,338.51 L370.92,339.20 L373.20,339.88 L375.48,340.55 L377.76,341.19 L380.04,341.83 L382.32,342.45 L384.60,343.05 L386.88,343.64 L389.16,344.22 L391.44,344.78 L393.72,345.33 L396.00,345.87 L398.28,346.39 L400.56,346.90 L402.84,347.40 L405.12,347.89 L407.40,348.36 L409.68,348.82 L411.96,349.27 L414.24,349.71 L416.52,350.14 L418.80,350.55 L421.08,350.96 L423.36,351.35 L425.64,351.74 L427.92,352.11 L430.20,352.47 L432.48,352.83 L434.76,353.17 L437.04,353.50 L439.32,353.83 L441.60,354.14 L443.88,354.45 L446.16,354.75 L448.44,355.03 L450.72,355.31 L453.00,355.59 L455.28,355.85 L457.56,356.10 L459.84,356.35 L462.12,356.59 L464.40,356.82 L466.68,357.05 L468.96,357.26 L471.24,357.47 L473.52,357.68 L475.80,357.87 L478.08,358.06 L480.36,358.25 L482.64,358.42 L484.92,358.60 L487.20,358.76 L489.48,358.92 L491.76,359.07 L494.04,359.22 L496.32,359.36 L498.60,359.50 L500.88,359.63 L503.16,359.76 L505.44,359.88 L507.72,360.00 L510.00,360.11 L512.28,360.22 L514.56,360.32 L516.84,360.42 L519.12,360.51 L521.40,360.60 L523.68,360.69 L525.96,360.77 L528.24,360.85 L530.52,360.93 L532.80,361.00 L535.08,361.07 L537.36,361.13 L539.64,361.20 L541.92,361.26 L544.20,361.31 L546.48,361.37 L548.76,361.42 L551.04,361.46 L553.32,361.51 L555.60,361.55 L557.88,361.59 L560.16,361.63 L562.44,361.67 L564.72,361.70 L567.00,361.73" fill="none" stroke="#00ff00" stroke-width="2.5" stroke-dasharray="5.7 2.64"/>
<path d="M111,143.4 H218.5" stroke="#0000ff" stroke-width="3.1" stroke-dasharray="3.1 3.85" fill="none"/>
<path d="M285.8,238.7 H567.5" stroke="#0000ff" stroke-width="3.1" stroke-dasharray="3.1 3.85" fill="none"/>
<path d="M488,42.4 H543.8" stroke="#ff0000" stroke-width="1"/>
<path d="M488,61.9 H543.8" stroke="#808080" stroke-width="1" stroke-dasharray="3 2.6 3 2.6 3 2.6 3 5.4"/>
<path d="M488,81.4 H543.8" stroke="#00ffff" stroke-width="1" stroke-dasharray="8.8 2.4 1.9 2"/>
<path d="M488,100.9 H543.8" stroke="#00ff00" stroke-width="2.3" stroke-dasharray="6.1 2.24"/>
<path d="M488,120.4 H541" stroke="#0000ff" stroke-width="3.1" stroke-dasharray="3.1 3.85"/>
<rect x="111.0" y="24.0" width="456.0" height="338.1" fill="none" stroke="#000" stroke-width="1.9"/>
<path d="M168.00,362.1 v-8.3 M168.00,24.0 v8.3 M225.00,362.1 v-8.3 M225.00,24.0 v8.3 M282.00,362.1 v-8.3 M282.00,24.0 v8.3 M339.00,362.1 v-8.3 M339.00,24.0 v8.3 M396.00,362.1 v-8.3 M396.00,24.0 v8.3 M453.00,362.1 v-8.3 M453.00,24.0 v8.3 M510.00,362.1 v-8.3 M510.00,24.0 v8.3 M111.0,294.48 h8.3 M567.0,294.48 h-8.3 M111.0,226.86 h8.3 M567.0,226.86 h-8.3 M111.0,159.24 h8.3 M567.0,159.24 h-8.3 M111.0,91.62 h8.3 M567.0,91.62 h-8.3 " stroke="#000" stroke-width="1.9" fill="none"/>
<text transform="scale(1,1.045)" x="99.3" y="352.92" text-anchor="end">0</text>
<text transform="scale(1,1.045)" x="99.3" y="288.23" text-anchor="end">0.05</text>
<text transform="scale(1,1.045)" x="99.3" y="223.54" text-anchor="end">0.1</text>
<text transform="scale(1,1.045)" x="99.3" y="158.76" text-anchor="end">0.15</text>
<text transform="scale(1,1.045)" x="99.3" y="94.07" text-anchor="end">0.2</text>
<text transform="scale(1,1.045)" x="99.3" y="29.38" text-anchor="end">0.25</text>
<text transform="scale(1,1.045)" x="113.5" y="371.58" text-anchor="middle">0</text>
<text transform="scale(1,1.045)" x="170.5" y="371.58" text-anchor="middle">50</text>
<text transform="scale(1,1.045)" x="227.5" y="371.58" text-anchor="middle">100</text>
<text transform="scale(1,1.045)" x="284.5" y="371.58" text-anchor="middle">150</text>
<text transform="scale(1,1.045)" x="341.5" y="371.58" text-anchor="middle">200</text>
<text transform="scale(1,1.045)" x="398.5" y="371.58" text-anchor="middle">250</text>
<text transform="scale(1,1.045)" x="455.5" y="371.58" text-anchor="middle">300</text>
<text transform="scale(1,1.045)" x="512.5" y="371.58" text-anchor="middle">350</text>
<text transform="scale(1,1.045)" x="569.5" y="371.58" text-anchor="middle">400</text>
<text transform="scale(1,1.045)" x="338.2" y="399.43" text-anchor="middle">T(norm.)</text>
<text transform="translate(26.2,192.5) rotate(-90) scale(1,1.045)" text-anchor="middle">R(norm.)</text>
<text transform="scale(1,1.045)" x="363.6" y="46.32" font-family="Liberation Serif" style="font-family:'Liberation Serif',serif;font-size:20px">ϕ</text>
<text transform="scale(1,1.045)" x="374.2" y="46.32" textLength="101.8" lengthAdjust="spacingAndGlyphs">GRAPE: A1</text>
<text transform="scale(1,1.045)" x="476" y="64.98" text-anchor="end">A2</text>
<text transform="scale(1,1.045)" x="476" y="83.64" text-anchor="end">A3</text>
<text transform="scale(1,1.045)" x="476" y="102.30" text-anchor="end">analytic</text>
<text transform="scale(1,1.045)" y="119.33"><tspan x="410.8">M</tspan><tspan x="431.65">=</tspan><tspan x="442.6">M</tspan></text>
<text transform="scale(1,1.045)" y="124.98" font-size="15.3" style="font-size:15.3px"><tspan x="427.0">t</tspan><tspan x="458.6" textLength="18.0" lengthAdjust="spacingAndGlyphs">bh</tspan></text>
</svg>
</body></html>
